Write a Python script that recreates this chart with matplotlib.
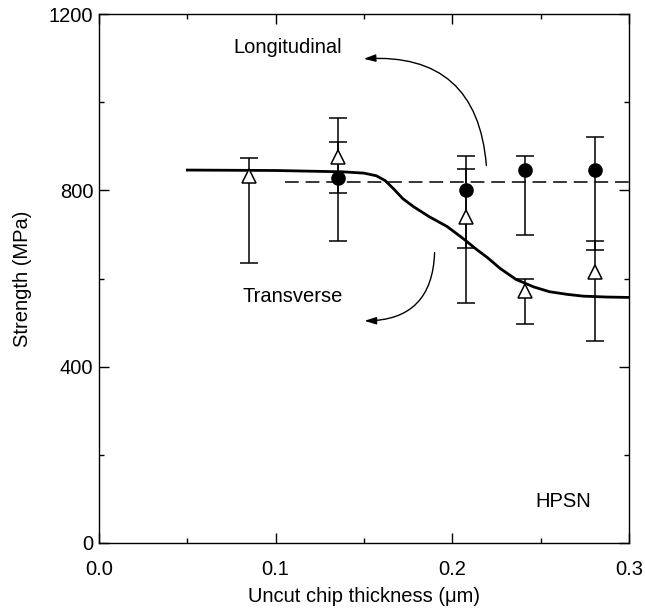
"""Strength vs uncut chip thickness for HPSN, longitudinal and transverse grinding."""
import matplotlib
matplotlib.use('Agg')
import matplotlib.pyplot as plt
import numpy as np
from matplotlib.patches import FancyArrowPatch
from matplotlib.ticker import MultipleLocator

# longitudinal grinding (filled circles)
long_x    = [0.135, 0.208, 0.241, 0.281]
long_y    = [827, 801, 845, 846]
long_high = [910, 879, 878, 920]
long_low  = [795, 670, 699, 665]

# transverse grinding (open triangles)
trans_x    = [0.085, 0.135, 0.208, 0.241, 0.281]
trans_y    = [832, 876, 740, 572, 615]
trans_high = [873, 963, 848, 598, 684]
trans_low  = [635, 686, 544, 497, 459]

# trend through the transverse data
fit_x = [0.050, 0.100, 0.138, 0.150, 0.157, 0.162, 0.1666, 0.172, 0.178, 0.187,
         0.197, 0.206, 0.214, 0.220, 0.227, 0.236, 0.246, 0.255, 0.265, 0.274,
         0.287, 0.300]
fit_y = [846, 845, 842, 839, 833, 822, 804, 781, 763, 740,
         718, 691, 665, 647, 623, 598, 581, 570, 564, 560,
         558, 557]

# longitudinal mean level
mean_x = [0.105, 0.300]
mean_y = [820, 820]

plt.rcParams['font.family'] = ['Liberation Sans', 'DejaVu Sans']
FS = 14.5

fig = plt.figure(figsize=(6.45, 6.16), dpi=100, facecolor='white')
ax = fig.add_axes([99/645, 73/616, 530/645, 529/616])

ax.plot(fit_x, fit_y, color='black', lw=2.0, zorder=2, solid_joinstyle='round')
ax.plot(mean_x, mean_y, color='black', lw=1.1, dashes=(9, 4.5), zorder=2)

ly = np.array(long_y)
ax.errorbar(long_x, long_y,
            yerr=[ly - np.array(long_low), np.array(long_high) - ly],
            fmt='o', color='black', ms=9.5, mfc='black', mec='black',
            ecolor='black', elinewidth=1.1, capsize=6.5, capthick=1.1, zorder=3)

ty = np.array(trans_y)
ax.errorbar(trans_x, trans_y,
            yerr=[ty - np.array(trans_low), np.array(trans_high) - ty],
            fmt='^', color='black', ms=9.5, mfc='white', mec='black', mew=1.1,
            ecolor='black', elinewidth=1.1, capsize=6.5, capthick=1.1, zorder=4)

# curved pointers to the labels
ax.add_patch(FancyArrowPatch((0.2194, 850), (0.1483, 1098),
                             connectionstyle='arc3,rad=0.5',
                             arrowstyle='-|>,head_length=0.7,head_width=0.22',
                             mutation_scale=10, color='black', lw=1.0))
ax.add_patch(FancyArrowPatch((0.1900, 665), (0.1487, 504),
                             connectionstyle='arc3,rad=-0.5',
                             arrowstyle='-|>,head_length=0.7,head_width=0.22',
                             mutation_scale=10, color='black', lw=1.0))

ax.text(0.0758, 1125, 'Longitudinal', fontsize=FS, ha='left', va='center')
ax.text(0.0815, 560, 'Transverse', fontsize=FS, ha='left', va='center')
ax.text(0.2627, 95, 'HPSN', fontsize=FS, ha='center', va='center')

ax.set_xlim(0, 0.3)
ax.set_ylim(0, 1200)
ax.xaxis.set_major_locator(MultipleLocator(0.1))
ax.xaxis.set_minor_locator(MultipleLocator(0.05))
ax.yaxis.set_major_locator(MultipleLocator(400))
ax.yaxis.set_minor_locator(MultipleLocator(200))
ax.xaxis.set_major_formatter(plt.FuncFormatter(lambda v, _: f'{v:.1f}'))
ax.tick_params(which='both', direction='in', top=True, right=True, width=1.0)
ax.tick_params(which='major', length=7)
ax.tick_params(which='minor', length=3.5)
ax.tick_params(axis='x', which='major', labelsize=FS, pad=12)
ax.tick_params(axis='y', which='major', labelsize=FS, pad=4)
for s in ax.spines.values():
    s.set_linewidth(1.0)

ax.set_xlabel('Uncut chip thickness (\u03bcm)', fontsize=FS, labelpad=6)
ax.set_ylabel('Strength (MPa)', fontsize=FS, labelpad=12)

fig.savefig('out.png', dpi=100, facecolor='white')
